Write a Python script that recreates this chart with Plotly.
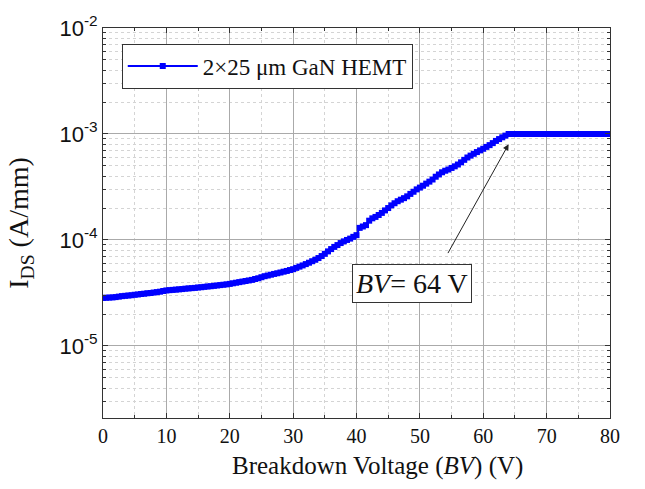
import plotly.graph_objects as go

# Breakdown voltage sweep (V) and drain current (A/mm)
voltage = [
    0, 0.5, 1, 1.5, 2, 2.5, 3, 3.5, 4, 4.5, 5, 5.5, 6, 6.5, 7, 7.5, 8, 8.5, 9, 9.5,
    10, 10.5, 11, 11.5, 12, 12.5, 13, 13.5, 14, 14.5, 15, 15.5, 16, 16.5, 17, 17.5, 18, 18.5, 19, 19.5,
    20, 20.5, 21, 21.5, 22, 22.5, 23, 23.5, 24, 24.5, 25, 25.5, 26, 26.5, 27, 27.5, 28, 28.5, 29, 29.5,
    30, 30.5, 31, 31.5, 32, 32.5, 33, 33.5, 34, 34.5, 35, 35.5, 36, 36.5, 37, 37.5, 38, 38.5, 39, 39.5,
    40, 40.5, 41, 41.5, 42, 42.5, 43, 43.5, 44, 44.5, 45, 45.5, 46, 46.5, 47, 47.5, 48, 48.5, 49, 49.5,
    50, 50.5, 51, 51.5, 52, 52.5, 53, 53.5, 54, 54.5, 55, 55.5, 56, 56.5, 57, 57.5, 58, 58.5, 59, 59.5,
    60, 60.5, 61, 61.5, 62, 62.5, 63, 63.5, 64, 64.5, 65, 65.5, 66, 66.5, 67, 67.5, 68, 68.5, 69, 69.5,
    70, 70.5, 71, 71.5, 72, 72.5, 73, 73.5, 74, 74.5, 75, 75.5, 76, 76.5, 77, 77.5, 78, 78.5, 79, 79.5, 80,
]
current = [
    2.84e-5, 2.85e-5, 2.86e-5, 2.87e-5, 2.89e-5, 2.92e-5, 2.95e-5, 2.97e-5, 2.99e-5, 3.01e-5,
    3.04e-5, 3.06e-5, 3.09e-5, 3.11e-5, 3.14e-5, 3.16e-5, 3.19e-5, 3.22e-5, 3.25e-5, 3.30e-5,
    3.34e-5, 3.36e-5, 3.38e-5, 3.40e-5, 3.42e-5, 3.44e-5, 3.47e-5, 3.49e-5, 3.51e-5, 3.53e-5,
    3.56e-5, 3.58e-5, 3.61e-5, 3.64e-5, 3.66e-5, 3.69e-5, 3.72e-5, 3.75e-5, 3.78e-5, 3.81e-5,
    3.85e-5, 3.90e-5, 3.95e-5, 4.00e-5, 4.05e-5, 4.10e-5, 4.15e-5, 4.20e-5, 4.28e-5, 4.35e-5,
    4.45e-5, 4.55e-5, 4.62e-5, 4.70e-5, 4.78e-5, 4.85e-5, 4.93e-5, 5.02e-5, 5.10e-5, 5.20e-5,
    5.30e-5, 5.45e-5, 5.60e-5, 5.75e-5, 5.92e-5, 6.10e-5, 6.30e-5, 6.50e-5, 6.75e-5, 7.05e-5,
    7.40e-5, 7.80e-5, 8.20e-5, 8.60e-5, 8.95e-5, 9.35e-5, 9.70e-5, 1.00e-4, 1.03e-4, 1.07e-4,
    1.11e-4, 1.30e-4, 1.34e-4, 1.38e-4, 1.52e-4, 1.60e-4, 1.65e-4, 1.72e-4, 1.80e-4, 1.90e-4,
    2.00e-4, 2.12e-4, 2.22e-4, 2.32e-4, 2.40e-4, 2.48e-4, 2.58e-4, 2.72e-4, 2.85e-4, 3.00e-4,
    3.12e-4, 3.25e-4, 3.40e-4, 3.55e-4, 3.72e-4, 3.95e-4, 4.15e-4, 4.35e-4, 4.50e-4, 4.62e-4,
    4.78e-4, 4.95e-4, 5.15e-4, 5.40e-4, 5.70e-4, 6.00e-4, 6.25e-4, 6.50e-4, 6.75e-4, 7.00e-4,
    7.25e-4, 7.55e-4, 7.85e-4, 8.20e-4, 8.60e-4, 8.95e-4, 9.30e-4, 9.65e-4, 1.00e-3, 1.00e-3,
    1.00e-3, 1.00e-3, 1.00e-3, 1.00e-3, 1.00e-3, 1.00e-3, 1.00e-3, 1.00e-3, 1.00e-3, 1.00e-3,
    1.00e-3, 1.00e-3, 1.00e-3, 1.00e-3, 1.00e-3, 1.00e-3, 1.00e-3, 1.00e-3, 1.00e-3, 1.00e-3,
    1.00e-3, 1.00e-3, 1.00e-3, 1.00e-3, 1.00e-3, 1.00e-3, 1.00e-3, 1.00e-3, 1.00e-3, 1.00e-3, 1.00e-3,
]

x_ticks = [0, 10, 20, 30, 40, 50, 60, 70, 80]
y_tickvals = [1e-5, 1e-4, 1e-3, 1e-2]
y_ticktext = ["10<sup>-5</sup>", "10<sup>-4</sup>", "10<sup>-3</sup>", "10<sup>-2</sup>"]
series_name = "2\u00d725 \u03bcm GaN HEMT"
x_title = "Breakdown Voltage (<i>BV</i>) (V)"
y_title = "I<sub>DS</sub> (A/mm)"

SERIF = "Liberation Serif, Times New Roman, serif"
SANS = "Liberation Sans, Arial, sans-serif"

fig = go.Figure()
fig.add_trace(go.Scatter(
    x=voltage, y=current, mode="lines+markers", name=series_name,
    line=dict(color="#0000ff", width=2),
    marker=dict(symbol="square", size=6, color="#0000ff"),
))

fig.update_layout(
    width=645, height=489,
    margin=dict(l=103, r=35, t=18, b=71),
    paper_bgcolor="white", plot_bgcolor="white",
    showlegend=True,
    legend=dict(
        x=0.037, y=0.96, xanchor="left", yanchor="top",
        bgcolor="white", bordercolor="#333333", borderwidth=1,
        font=dict(family=SERIF, size=23, color="#111111"),
        itemwidth=70,
    ),
    xaxis=dict(
        range=[0, 80], tickvals=x_ticks,
        showline=True, linecolor="#333333", linewidth=1, mirror="allticks",
        ticks="inside", ticklen=5, tickcolor="#333333",
        showgrid=True, gridcolor="#aaaaaa", gridwidth=1,
        minor=dict(dtick=5, showgrid=True, gridcolor="#d4d4d4", griddash="dot",
                   ticks="inside", ticklen=3, tickcolor="#333333"),
        tickfont=dict(family=SERIF, size=20, color="#111111"),
        zeroline=False,
    ),
    yaxis=dict(
        type="log", range=[-5.68, -2],
        tickvals=y_tickvals, ticktext=y_ticktext,
        showline=True, linecolor="#333333", linewidth=1, mirror="allticks",
        ticks="inside", ticklen=5, tickcolor="#333333",
        showgrid=True, gridcolor="#aaaaaa", gridwidth=1,
        minor=dict(dtick="D1", showgrid=True, gridcolor="#d4d4d4", griddash="dot",
                   ticks="inside", ticklen=3, tickcolor="#333333"),
        tickfont=dict(family=SANS, size=22, color="#111111"),
        title=dict(text=y_title,
                   font=dict(family=SERIF, size=28, color="#111111"), standoff=22),
        zeroline=False,
    ),
)

# x-axis title (placed as annotation to match the reference's offset)
fig.add_annotation(
    x=0.542, y=-0.1225, xref="paper", yref="paper", showarrow=False,
    text=x_title, xanchor="center", yanchor="middle",
    font=dict(family=SERIF, size=25, color="#111111"),
)

# arrow pointing at the breakdown knee
fig.add_annotation(
    x=64, y=-3.097, ax=54.3, ay=-4.138, axref="x", ayref="y",
    xref="x", yref="y", text="", showarrow=True,
    arrowhead=2, arrowsize=1.2, arrowwidth=1, arrowcolor="#222222",
)
# label box
fig.add_annotation(
    x=48.8, y=-4.415, xref="x", yref="y", showarrow=False,
    text="<i>BV</i>= 64 V",
    font=dict(family=SERIF, size=28, color="#111111"),
    bgcolor="white", bordercolor="#333333", borderwidth=1, borderpad=3,
)

fig.write_html("out.html")
